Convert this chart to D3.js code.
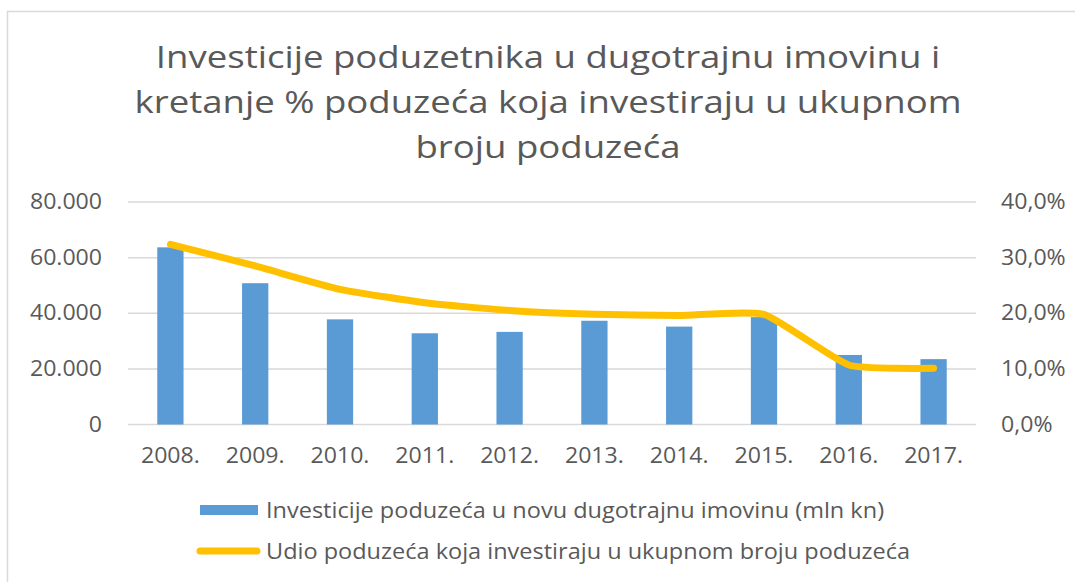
<!DOCTYPE html>
<html>
<head>
<meta charset="utf-8">
<script src="https://cdn.jsdelivr.net/npm/d3@7"></script>
<style>
  html, body { margin: 0; padding: 0; background: #ffffff; }
  svg { display: block; }
  text { font-family: "Open Sans", "Noto Sans", sans-serif; fill: #595959; }
</style>
</head>
<body>
<svg id="chart" width="1075" height="582"></svg>
<script>
// Years on the category axis
const years = ["2008.", "2009.", "2010.", "2011.", "2012.", "2013.", "2014.", "2015.", "2016.", "2017."];
// Investments in new fixed assets (mln kn)
const investments = [63700, 50800, 37800, 32800, 33300, 37300, 35200, 38600, 25000, 23500];
// Share of investing enterprises in the total number of enterprises (%)
const investingShare = [32.4, 28.5, 24.3, 21.9, 20.5, 19.8, 19.6, 19.8, 10.7, 10.1];
// Axis ticks
const leftTicks = [0, 20000, 40000, 60000, 80000];
const rightTicks = [0, 10, 20, 30, 40];
// Title lines and legend labels
const titleLines = [
  "Investicije poduzetnika u dugotrajnu imovinu i",
  "kretanje % poduzeća koja investiraju u ukupnom",
  "broju poduzeća"
];
const legendLabels = [
  "Investicije poduzeća u novu dugotrajnu imovinu (mln kn)",
  "Udio poduzeća koja investiraju u ukupnom broju poduzeća"
];

const svg = d3.select("#chart");
const W = 1075, H = 582;
const plot = { left: 128, right: 976, top: 202, bottom: 424.5 };
const barColor = "#5B9BD5";
const lineColor = "#FFC000";
const gridColor = "#D9D9D9";
// The typeface is set a little wide, so text is stretched horizontally
const labelStretch = 1.1;
const titleStretch = 1.18;
const legendStretch = 1.12;

// Chart area frame
svg.append("rect")
  .attr("x", 7.5).attr("y", 11.5)
  .attr("width", W + 20).attr("height", H + 20)
  .attr("fill", "#ffffff")
  .attr("stroke", gridColor).attr("stroke-width", 1.5);

// Title
svg.append("text")
  .attr("text-anchor", "middle")
  .attr("font-size", 31)
  .attr("transform", `translate(548,0) scale(${titleStretch},1)`)
  .selectAll("tspan")
  .data(titleLines)
  .join("tspan")
  .attr("x", 0)
  .attr("y", (d, i) => 68 + i * 45)
  .text(d => d);

// Scales
const x = d3.scaleBand().domain(years).range([plot.left, plot.right]).padding(0);
const yLeft = d3.scaleLinear().domain([0, 80000]).range([plot.bottom, plot.top]);
const yRight = d3.scaleLinear().domain([0, 40]).range([plot.bottom, plot.top]);

const locale = d3.formatLocale({ decimal: ",", thousands: ".", grouping: [3], currency: ["", " kn"] });
const fmtLeft = locale.format(",.0f");
const fmtRight = v => locale.format(".1f")(v) + "%";

// Gridlines
svg.append("g")
  .selectAll("line")
  .data(leftTicks)
  .join("line")
  .attr("x1", plot.left).attr("x2", plot.right)
  .attr("y1", d => yLeft(d)).attr("y2", d => yLeft(d))
  .attr("stroke", gridColor).attr("stroke-width", 1.5);

function styleTicks(axis) {
  axis.select(".domain").remove();
  axis.selectAll("text")
    .attr("font-size", 21).attr("fill", "#595959")
    .attr("font-family", "Open Sans")
    .attr("transform", `scale(${labelStretch},1)`);
}

// Left axis
const leftAxis = svg.append("g")
  .attr("transform", `translate(${plot.left - 26},0)`)
  .call(d3.axisLeft(yLeft).tickValues(leftTicks).tickFormat(fmtLeft).tickSize(0).tickPadding(0));
styleTicks(leftAxis);

// Right axis
const rightAxis = svg.append("g")
  .attr("transform", `translate(${plot.right + 25},0)`)
  .call(d3.axisRight(yRight).tickValues(rightTicks).tickFormat(fmtRight).tickSize(0).tickPadding(0));
styleTicks(rightAxis);

// Bars
const barW = x.bandwidth() * 0.31;
svg.append("g")
  .selectAll("rect")
  .data(investments)
  .join("rect")
  .attr("x", (d, i) => x(years[i]) + x.bandwidth() / 2 - barW / 2)
  .attr("y", d => yLeft(d))
  .attr("width", barW)
  .attr("height", d => yLeft(0) - yLeft(d))
  .attr("fill", barColor);

// Bottom axis
const bottomAxis = svg.append("g")
  .attr("transform", `translate(0,${plot.bottom})`)
  .call(d3.axisBottom(x).tickSize(0).tickPadding(24));
styleTicks(bottomAxis);

// Share line
const line = d3.line()
  .x((d, i) => x(years[i]) + x.bandwidth() / 2)
  .y(d => yRight(d))
  .curve(d3.curveCardinal.tension(0.5));
svg.append("path")
  .datum(investingShare)
  .attr("d", line)
  .attr("fill", "none")
  .attr("stroke", lineColor)
  .attr("stroke-width", 7)
  .attr("stroke-linecap", "round")
  .attr("stroke-linejoin", "round");

// Legend
const legend = svg.append("g");
legend.append("rect")
  .attr("x", 200).attr("y", 505).attr("width", 58).attr("height", 10)
  .attr("fill", barColor);
legend.append("text")
  .attr("transform", `translate(266,517.5) scale(${legendStretch},1)`)
  .attr("font-size", 21)
  .text(legendLabels[0]);
legend.append("line")
  .attr("x1", 200).attr("x2", 257).attr("y1", 551).attr("y2", 551)
  .attr("stroke", lineColor).attr("stroke-width", 7)
  .attr("stroke-linecap", "round");
legend.append("text")
  .attr("transform", `translate(266,558.5) scale(${legendStretch},1)`)
  .attr("font-size", 21)
  .text(legendLabels[1]);
</script>
</body>
</html>
